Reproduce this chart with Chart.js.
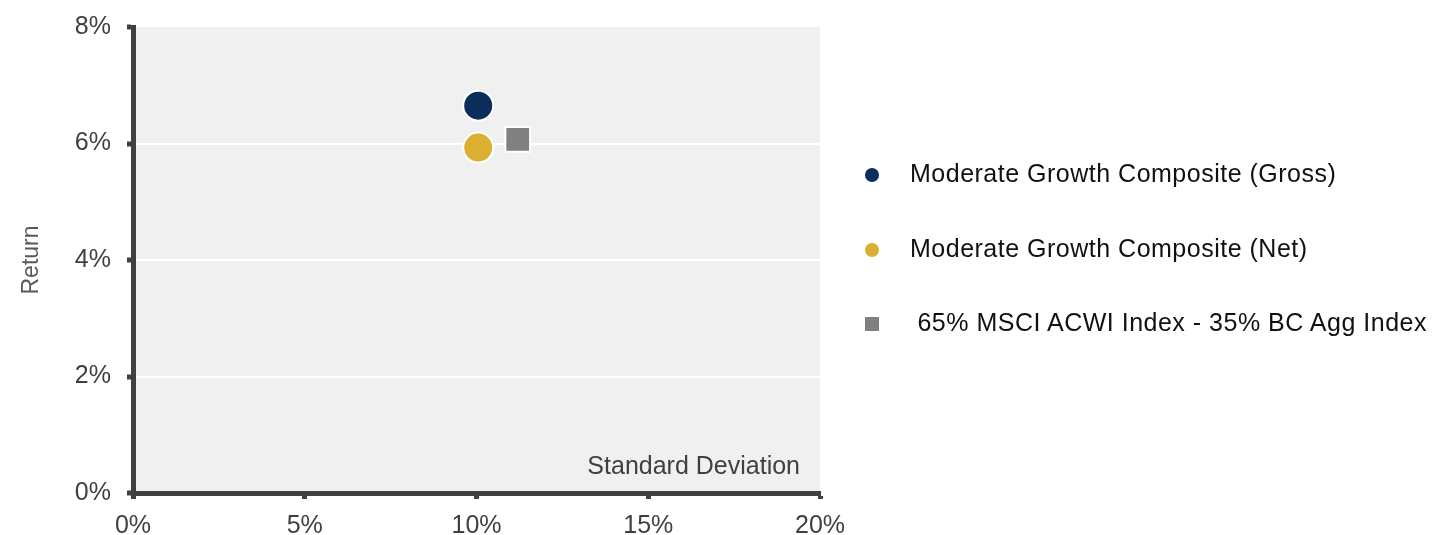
<!DOCTYPE html>
<html lang="en">
<head>
  <meta charset="UTF-8">
  <title>Risk / Return</title>
  <script src="https://cdn.jsdelivr.net/npm/chart.js"></script>
  <style>
    body {
      margin: 0;
      background: #fff;
      font-family: 'Liberation Sans', Arial, sans-serif;
    }
    #wrap {
      position: relative;
      width: 1449px;
      height: 535px;
    }
    #legend {
      position: absolute;
      left: 862px;
      top: 159px;
    }
    .item {
      height: 74.5px;
      display: flex;
      align-items: flex-start;
      font-size: 25px;
      color: #111;
      white-space: pre;
      letter-spacing: 0.5px;
    }
    .mark {
      width: 14px;
      height: 14px;
      margin: 9px 31px 0 3px;
      flex: none;
    }
  </style>
</head>
<body>

<div id="wrap">
  <canvas id="chart" width="1449" height="535"></canvas>
  <div id="legend"></div>
</div>

<script>
  // series: standard deviation (%) and return (%)
  const labels = ['Moderate Growth Composite (Gross)', 'Moderate Growth Composite (Net)', ' 65% MSCI ACWI Index - 35% BC Agg Index'];
  const stdDev = [10.05, 10.05, 11.2];
  const returns = [6.65, 5.93, 6.07];
  const colors = ['#0B2D5B', '#DBB032', '#808080'];
  const shapes = ['circle', 'circle', 'rect'];

  const xTicks = [0, 5, 10, 15, 20];
  const yTicks = [0, 2, 4, 6, 8];

  const FONT = "'Liberation Sans', Arial, sans-serif";
  const AXIS = '#404040';

  const datasets = labels.map((name, i) => ({
    label: name,
    data: [{ x: stdDev[i], y: returns[i] }],
    backgroundColor: colors[i],
    borderColor: '#ffffff',
    borderWidth: 2,
    pointStyle: shapes[i],
    pointRadius: shapes[i] === 'rect' ? 17.5 : 15,
    pointHoverRadius: shapes[i] === 'rect' ? 17.5 : 15
  }));

  // grey plot background + the label inside the plot
  const plotBg = {
    id: 'plotBg',
    beforeDraw(chart) {
      const { ctx, chartArea: a } = chart;
      ctx.save();
      ctx.fillStyle = '#F0F0F0';
      ctx.fillRect(a.left, a.top, a.right - a.left, a.bottom - a.top);
      ctx.restore();
    },
    afterDatasetsDraw(chart) {
      const { ctx, chartArea: a } = chart;
      ctx.save();
      ctx.font = '25px ' + FONT;
      ctx.fillStyle = AXIS;
      ctx.textAlign = 'right';
      ctx.textBaseline = 'alphabetic';
      ctx.fillText('Standard Deviation', a.right - 20, a.bottom - 19);
      ctx.restore();
    }
  };

  new Chart(document.getElementById('chart'), {
    type: 'scatter',
    data: { datasets },
    plugins: [plotBg],
    options: {
      responsive: false,
      animation: false,
      layout: { padding: { top: 27, right: 629, left: 0, bottom: 0 } },
      plugins: {
        legend: { display: false },
        tooltip: { enabled: false }
      },
      scales: {
        x: {
          min: 0, max: 20,
          afterBuildTicks: s => { s.ticks = xTicks.map(v => ({ value: v })); },
          afterFit: s => { s.height = 42; },
          border: { color: AXIS, width: 5 },
          grid: {
            drawOnChartArea: false,
            tickColor: AXIS,
            tickLength: 6,
            tickWidth: 5
          },
          ticks: {
            color: AXIS,
            font: { family: FONT, size: 25 },
            padding: 12,
            maxRotation: 0,
            callback: v => v + '%'
          }
        },
        y: {
          min: 0, max: 8,
          afterBuildTicks: s => { s.ticks = yTicks.map(v => ({ value: v })); },
          afterFit: s => { s.width = 133; s.paddingTop = 0; s.paddingBottom = 0; },
          border: { color: AXIS, width: 5 },
          grid: {
            color: c => (c.tick && c.tick.value > 0 && c.tick.value < 8) ? '#ffffff' : 'rgba(0,0,0,0)',
            lineWidth: 2,
            tickColor: AXIS,
            tickLength: 6,
            tickWidth: 5
          },
          title: {
            display: true,
            text: 'Return',
            color: '#595959',
            font: { family: FONT, size: 23 },
            padding: { top: 18, bottom: 0 }
          },
          ticks: {
            color: AXIS,
            font: { family: FONT, size: 25, lineHeight: 1 },
            padding: 16,
            callback: v => v + '%'
          }
        }
      }
    }
  });

  // legend as text next to the plot
  const legend = document.getElementById('legend');
  labels.forEach((name, i) => {
    const row = document.createElement('div');
    row.className = 'item';
    const mark = document.createElement('span');
    mark.className = 'mark';
    mark.style.background = colors[i];
    if (shapes[i] === 'circle') mark.style.borderRadius = '50%';
    const txt = document.createElement('span');
    txt.textContent = name;
    row.appendChild(mark);
    row.appendChild(txt);
    legend.appendChild(row);
  });
</script>

</body>
</html>
